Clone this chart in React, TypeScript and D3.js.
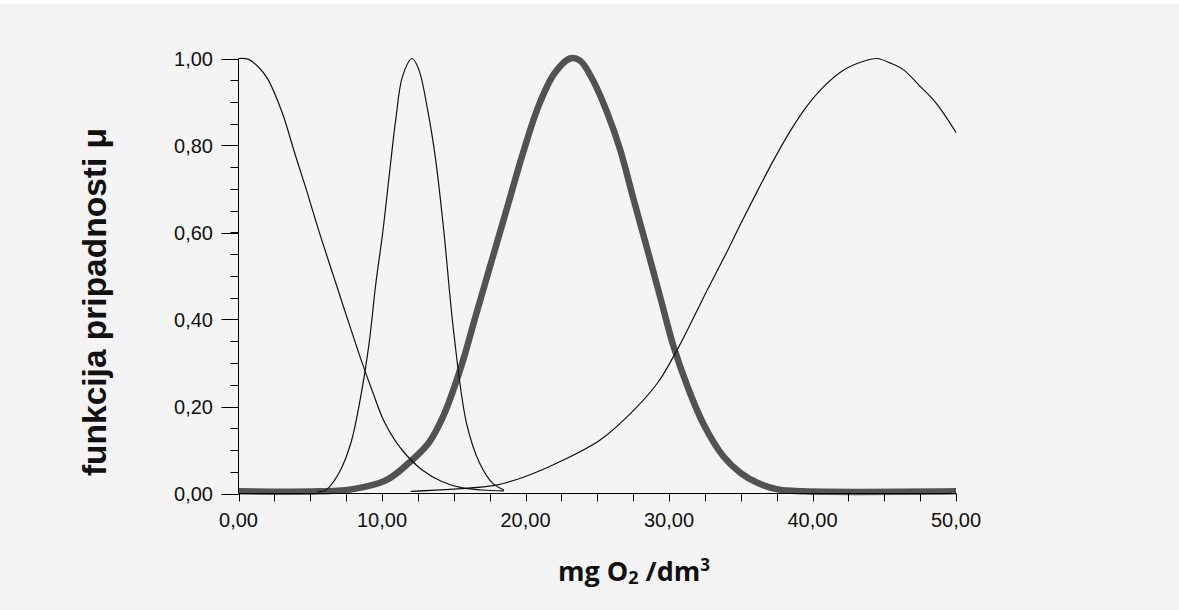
import React from "react";
import * as d3 from "d3";

// X positions (mg O2/dm3) and membership values
const lowX = [0, 0.7, 1.4, 2.0, 3.03, 3.94, 4.77, 5.54, 6.38, 7.42, 8.6, 9.3, 10.2, 11.4, 12.8, 14.2, 15.6, 17.0, 18.5];
const lowY = [1.0, 0.998, 0.98, 0.955, 0.877, 0.78, 0.694, 0.61, 0.524, 0.419, 0.302, 0.238, 0.162, 0.1, 0.054, 0.027, 0.013, 0.008, 0.006];

const midX = [5.5, 6.1, 7.0, 7.83, 8.5, 9.1, 9.56, 10.05, 10.5, 10.96, 11.44, 12.1, 12.56, 13.19, 13.74, 14.3, 15.0, 15.9, 16.8, 17.7, 18.5];
const midY = [0.004, 0.008, 0.047, 0.116, 0.22, 0.345, 0.48, 0.6, 0.73, 0.86, 0.96, 1.0, 0.975, 0.88, 0.767, 0.606, 0.37, 0.16, 0.07, 0.024, 0.008];

const boldX = [0, 5.6, 7.97, 10.26, 11.86, 13.25, 14.3, 15.5, 16.5, 17.6, 18.7, 19.8, 20.9, 22.0, 23.1, 23.8, 24.7, 25.7, 26.6, 27.5, 28.5, 29.4, 30.3, 31.3, 32.4, 33.8, 35.0, 36.2, 37.5, 39.4, 50];
const boldY = [0.005, 0.005, 0.01, 0.03, 0.07, 0.116, 0.18, 0.29, 0.405, 0.53, 0.655, 0.78, 0.89, 0.965, 1.0, 0.995, 0.95, 0.875, 0.79, 0.68, 0.56, 0.45, 0.34, 0.245, 0.16, 0.085, 0.047, 0.024, 0.01, 0.005, 0.005];

const highX = [12, 15, 18.05, 19.9, 22.2, 25.2, 27.5, 29.2, 30.3, 31.5, 32.2, 32.7, 33.8, 35.0, 36.2, 37.3, 38.5, 39.6, 40.8, 42.1, 43.5, 44.5, 45.4, 46.3, 47.5, 48.6, 50];
const highY = [0.005, 0.01, 0.02, 0.038, 0.07, 0.123, 0.19, 0.254, 0.314, 0.39, 0.437, 0.47, 0.54, 0.62, 0.698, 0.767, 0.836, 0.89, 0.936, 0.972, 0.993, 1.0, 0.99, 0.975, 0.936, 0.898, 0.83];

const yTickValues = [0, 0.2, 0.4, 0.6, 0.8, 1.0];
const yTickLabels = ["0,00", "0,20", "0,40", "0,60", "0,80", "1,00"];
const xTickValues = [0, 10, 20, 30, 40, 50];
const xTickLabels = ["0,00", "10,00", "20,00", "30,00", "40,00", "50,00"];

const yTitle = "funkcija pripadnosti μ";

export default function App() {
  const W = 1179, H = 610;
  const x = d3.scaleLinear().domain([0, 50]).range([238.5, 956]);
  const y = d3.scaleLinear().domain([0, 1]).range([493.5, 58.5]);

  const line = d3
    .line<[number, number]>()
    .x((d) => x(d[0]))
    .y((d) => y(Math.min(1, d[1])))
    .curve(d3.curveCatmullRom.alpha(0.5));

  const pts = (xs: number[], ys: number[]) => xs.map((v, i) => [v, ys[i]] as [number, number]);

  const yMinor = d3.range(0, 1.0001, 0.05);
  const xMinor = d3.range(0, 50.001, 2.5);
  const font = "'Liberation Sans', Arial, sans-serif";

  return (
    <div style={{ position: "absolute", left: 0, top: 0 }}>
      <svg width={W} height={H} style={{ display: "block" }}>
        <rect x={0} y={0} width={W} height={H} fill="#f4f4f4" />
        <rect x={0} y={0} width={W} height={4} fill="#ffffff" />

        {/* curves */}
        <path d={line(pts(boldX, boldY)) || ""} fill="none" stroke="#525252" strokeWidth={6.5} strokeLinejoin="round" />
        <path d={line(pts(lowX, lowY)) || ""} fill="none" stroke="#111" strokeWidth={1.2} />
        <path d={line(pts(midX, midY)) || ""} fill="none" stroke="#111" strokeWidth={1.2} />
        <path d={line(pts(highX, highY)) || ""} fill="none" stroke="#111" strokeWidth={1.2} />

        {/* y axis */}
        <line x1={x(0)} x2={x(0)} y1={y(1)} y2={y(0)} stroke="#000" strokeWidth={1} />
        {yMinor.map((v, i) => (
          <line key={"ym" + i} x1={x(0) - 8} x2={x(0)} y1={Math.round(y(v)) + 0.5} y2={Math.round(y(v)) + 0.5} stroke="#000" />
        ))}
        {yTickValues.map((v, i) => (
          <g key={"yt" + i}>
            <line x1={x(0) - 17} x2={x(0)} y1={Math.round(y(v)) + 0.5} y2={Math.round(y(v)) + 0.5} stroke="#000" />
            <text x={213} y={y(v)} dy="0.36em" textAnchor="end" fontFamily={font} fontSize={20} fill="#111">
              {yTickLabels[i]}
            </text>
          </g>
        ))}

        {/* x axis */}
        <line x1={x(0)} x2={x(50)} y1={y(0)} y2={y(0)} stroke="#000" strokeWidth={1} />
        {xMinor.map((v, i) => (
          <line key={"xm" + i} x1={Math.round(x(v)) + 0.5} x2={Math.round(x(v)) + 0.5} y1={y(0)} y2={y(0) + 8} stroke="#000" />
        ))}
        {xTickValues.map((v, i) => (
          <text key={"xt" + i} x={x(v)} y={527} textAnchor="middle" fontFamily={font} fontSize={20} fill="#111">
            {xTickLabels[i]}
          </text>
        ))}

        {/* titles */}
        <text
          transform={`translate(106, 302) rotate(-90)`}
          textAnchor="middle"
          fontFamily={font}
          fontWeight="bold"
          fontSize={33.5}
          fill="#111"
        >
          {yTitle}
        </text>
        <text x={634} y={581} textAnchor="middle" fontFamily="'Open Sans', Lato, sans-serif" fontWeight="bold" fontSize={27} fill="#111">
          mg O<tspan fontSize={18} dy={3}>2</tspan>
          <tspan dy={-3}> /dm</tspan>
          <tspan fontSize={17} dy={-10}>3</tspan>
        </text>
      </svg>
    </div>
  );
}
